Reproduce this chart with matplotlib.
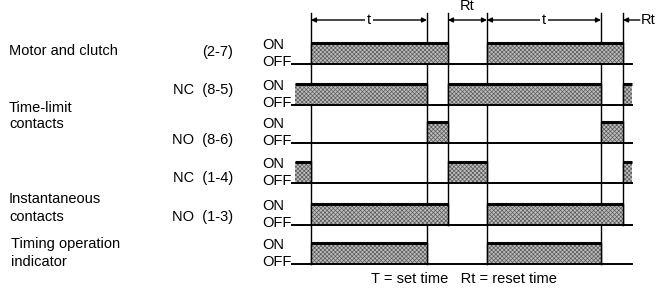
import matplotlib
matplotlib.use("Agg")
import matplotlib.pyplot as plt
from matplotlib.patches import Rectangle
import matplotlib.transforms as mtrans

plt.rcParams['font.family'] = ['Liberation Sans', 'DejaVu Sans']
plt.rcParams['hatch.color'] = '#5a5a5a'
plt.rcParams['hatch.linewidth'] = 0.5

# ---- data (time units; set time T = 10) ----
t_start = -1.38          # left edge of the diagram
t_end = 27.67            # right edge of the diagram
events = [0.0, 10.0, 11.81, 15.17, 25.0, 26.9]   # transition instants

row_names = ["Motor and clutch", "NC (8-5)", "NO (8-6)", "NC (1-4)", "NO (1-3)",
             "Timing operation indicator"]
# ON intervals of every signal
on_intervals = [
    [(0.0, 11.81), (15.17, 26.9)],                 # motor and clutch (2-7)
    [(-1.38, 10.0), (11.81, 25.0), (26.9, 27.67)], # time-limit NC (8-5)
    [(10.0, 11.81), (25.0, 26.9)],                 # time-limit NO (8-6)
    [(-1.38, 0.0), (11.81, 15.17), (26.9, 27.67)], # instantaneous NC (1-4)
    [(0.0, 11.81), (15.17, 26.9)],                 # instantaneous NO (1-3)
    [(0.0, 10.0), (15.17, 25.0)],                  # timing operation indicator
]
dims = [(0.0, 10.0, "t"), (11.81, 15.17, "Rt"), (15.17, 25.0, "t")]

# ---- layout ----
W, H = 664, 293
X0, S = 311.0, 11.6
baselines = [64, 105, 143, 183, 225, 264]
level_h = 21

fig = plt.figure(figsize=(W / 100, H / 100), dpi=100)
ax = fig.add_axes([0, 0, 1, 1])
ax.set_xlim(-X0 / S, (W - X0) / S)
ax.set_ylim(H, 0)
ax.axis('off')

px = mtrans.blended_transform_factory(
    mtrans.Affine2D().scale(1.0 / W) + ax.transAxes, ax.transData)

FS = 10.5
# vertical reference lines at every transition, down to the lowest row using it
for e in events:
    lowest = None
    for r, ivs in enumerate(on_intervals):
        for a, b in ivs:
            if abs(a - e) < 1e-6 or abs(b - e) < 1e-6:
                lowest = r
    ax.plot([e, e], [13, baselines[lowest]], color='black', lw=1.0, zorder=1)

for r, ivs in enumerate(on_intervals):
    yb = baselines[r]
    yt = yb - level_h
    for a, b in ivs:
        ax.add_patch(Rectangle((a, yt), b - a, level_h, facecolor='#bdbdbd',
                               edgecolor='#5a5a5a', hatch='xxxxxxxx', lw=0, zorder=2))
        ax.plot([a, b], [yt, yt], color='black', lw=2.2, zorder=3,
                solid_capstyle='butt')
        for x in (a, b):
            if t_start < x < t_end:
                ax.plot([x, x], [yt, yb], color='black', lw=1.0, zorder=3)
    ax.plot([t_start - 0.25, t_end], [yb, yb], color='black', lw=1.4, zorder=3)
    ax.text(262, yb - 19, "ON", transform=px, fontsize=FS, va='center', ha='left')
    ax.text(262, yb - 2, "OFF", transform=px, fontsize=FS, va='center', ha='left')

# dimension arrows
ay = 20
for a, b, lab in dims:
    ax.annotate("", xy=(a, ay), xytext=(b, ay),
                arrowprops=dict(arrowstyle='<|-|>', color='black', lw=1.0,
                                mutation_scale=7, shrinkA=0, shrinkB=0), zorder=4)
    if lab == "t":
        ax.text((a + b) / 2, ay, lab, fontsize=FS, ha='center', va='center',
                bbox=dict(facecolor='white', edgecolor='none', pad=1.5), zorder=5)
    else:
        ax.text((a + b) / 2, 6, lab, fontsize=FS, ha='center', va='center', zorder=5)
ax.annotate("", xy=(events[5], ay), xytext=(events[5] + 1.45, ay),
            arrowprops=dict(arrowstyle='-|>', color='black', lw=1.0,
                            mutation_scale=7, shrinkA=0, shrinkB=0), zorder=4)
ax.text(events[5] + 1.55, ay, "Rt", fontsize=FS, ha='left', va='center')

# left labels
left = [("Motor and clutch", 9, 51), ("Time-limit", 9, 108), ("contacts", 9, 124),
        ("Instantaneous", 9, 199), ("contacts", 9, 217),
        ("Timing operation", 11, 244), ("indicator", 11, 262)]
for s, x, y in left:
    ax.text(x, y, s, transform=px, fontsize=FS, ha='left', va='center')
right = [("(2-7)", 52), ("NC  (8-5)", 90), ("NO  (8-6)", 140),
         ("NC  (1-4)", 178), ("NO  (1-3)", 217)]
for s, y in right:
    ax.text(233, y, s, transform=px, fontsize=FS, ha='right', va='center')

ax.text(464, 279, "T = set time   Rt = reset time", transform=px, fontsize=FS,
        ha='center', va='center')

fig.savefig("out.png", dpi=100)
